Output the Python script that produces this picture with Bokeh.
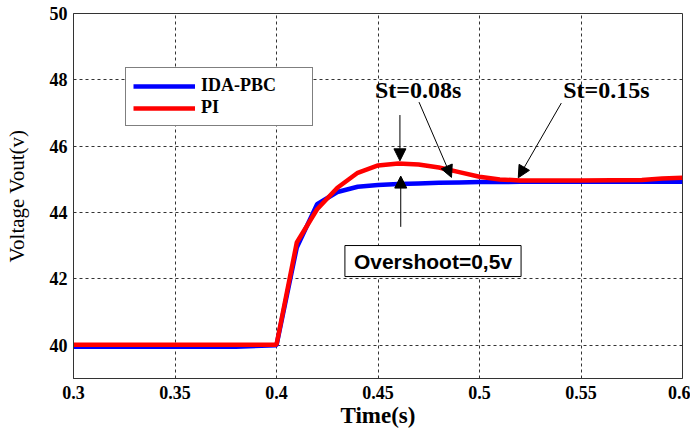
from bokeh.plotting import figure
from bokeh.models import (Range1d, FixedTicker, Legend, LegendItem, Label, Arrow,
                          NormalHead)
from bokeh.embed import file_html
from bokeh.resources import INLINE

# ---- data ----
time_s = [0.30, 0.38, 0.40, 0.41, 0.42, 0.43, 0.44, 0.45, 0.46, 0.47, 0.48,
          0.49, 0.50, 0.51, 0.52, 0.55, 0.58, 0.59, 0.60]
v_ida_pbc = [39.96, 39.96, 40.00, 42.95, 44.25, 44.62, 44.78, 44.83, 44.86, 44.88,
             44.90, 44.91, 44.92, 44.92, 44.93, 44.93, 44.93, 44.93, 44.93]
v_pi = [40.02, 40.02, 40.02, 43.10, 44.10, 44.75, 45.20, 45.42, 45.48, 45.45,
        45.36, 45.22, 45.08, 45.00, 44.97, 44.97, 44.98, 45.03, 45.05]

x_ticks = [0.30, 0.35, 0.40, 0.45, 0.50, 0.55, 0.60]
x_tick_labels = ["0.3", "0.35", "0.4", "0.45", "0.5", "0.55", "0.6"]
y_ticks = [40, 42, 44, 46, 48, 50]

series_names = ["IDA-PBC", "PI"]
series_colors = ["#0000FF", "#FF0000"]

# annotations
st_labels = ["St=0.08s", "St=0.15s"]
st_label_x = [0.4485, 0.5412]
st_label_y = 47.69
# arrows: (x_start, y_start, x_end, y_end)
arrows = [
    (0.4608, 46.94, 0.4608, 45.56),
    (0.4612, 43.57, 0.4612, 45.10),
    (0.4702, 47.33, 0.4862, 45.06),
    (0.5403, 47.30, 0.5191, 45.05),
]
overshoot_text = "Overshoot=0,5v"

p = figure(width=690, height=430, output_backend="svg", toolbar_location=None,
           x_range=Range1d(0.3, 0.6), y_range=Range1d(39, 50),
           min_border_left=73, min_border_right=8, min_border_top=13,
           min_border_bottom=49)
p.background_fill_color = "white"
p.border_fill_color = "white"
p.outline_line_color = "#333333"
p.outline_line_width = 1

r_blue = p.line(time_s, v_ida_pbc, line_color=series_colors[0], line_width=4.5)
r_red = p.line(time_s, v_pi, line_color=series_colors[1], line_width=4.5)

# axes
for ax in (p.xaxis[0], p.yaxis[0]):
    ax.major_tick_in = 0
    ax.major_tick_out = 0
    ax.minor_tick_in = 0
    ax.minor_tick_out = 0
    ax.axis_line_color = "#333333"
    ax.major_label_text_font = "Liberation Serif"
    ax.major_label_text_font_style = "bold"
    ax.major_label_text_font_size = "18px"
    ax.major_label_text_color = "black"

p.xaxis.ticker = FixedTicker(ticks=x_ticks)
p.xaxis.major_label_overrides = {t: l for t, l in zip(x_ticks, x_tick_labels)}
p.yaxis.ticker = FixedTicker(ticks=y_ticks)
p.xaxis.major_label_standoff = 7
p.yaxis.major_label_standoff = 6

p.xaxis.axis_label = "Time(s)"
p.xaxis.axis_label_text_font = "Liberation Serif"
p.xaxis.axis_label_text_font_style = "bold"
p.xaxis.axis_label_text_font_size = "23px"
p.xaxis.axis_label_text_color = "black"
p.xaxis.axis_label_standoff = 1

p.yaxis.axis_label = "Voltage Vout(v)"
p.yaxis.axis_label_text_font = "Liberation Serif"
p.yaxis.axis_label_text_font_style = "normal"
p.yaxis.axis_label_text_font_size = "21px"
p.yaxis.axis_label_text_color = "black"
p.yaxis.axis_label_standoff = 18

# grid
for g in (p.xgrid[0], p.ygrid[0]):
    g.grid_line_color = "#333333"
    g.grid_line_dash = "3 3"
    g.grid_line_width = 1

# legend
legend = Legend(items=[LegendItem(label=series_names[0], renderers=[r_blue]),
                       LegendItem(label=series_names[1], renderers=[r_red])],
                location=(52, 252), glyph_width=62, glyph_height=20,
                label_text_font="Liberation Serif", label_text_font_style="bold",
                label_text_font_size="18px", label_text_color="black",
                border_line_color="black",
                border_line_width=1, background_fill_color="white",
                background_fill_alpha=1, padding=7, spacing=1, margin=0,
                label_standoff=6, label_width=104)
p.add_layout(legend, "center")

# annotations
for txt, lx in zip(st_labels, st_label_x):
    p.add_layout(Label(x=lx, y=st_label_y, text=txt, text_font="Liberation Serif",
                       text_font_style="bold", text_font_size="24px",
                       text_baseline="middle", text_color="black"))

for (x0, y0, x1, y1) in arrows:
    p.add_layout(Arrow(x_start=x0, y_start=y0, x_end=x1, y_end=y1,
                       line_color="black", line_width=1,
                       end=NormalHead(size=12, fill_color="black",
                                      line_color="black", line_width=1)))

p.add_layout(Label(x=0.4337, y=42.54, text=overshoot_text,
                   text_font="Liberation Sans", text_font_style="bold",
                   text_font_size="21px", text_baseline="middle",
                   text_color="black", border_line_color="black",
                   border_line_width=1, background_fill_color="white",
                   padding=(9, 4)))

open("out.html", "w").write(file_html(p, INLINE))
